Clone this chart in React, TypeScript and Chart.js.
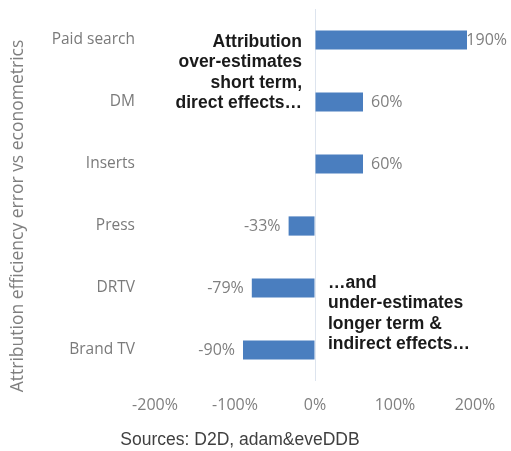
import React, { useEffect, useRef } from "react";
import { Chart, registerables } from "chart.js";

Chart.register(...registerables);

const categories = ["Paid search", "DM", "Inserts", "Press", "DRTV", "Brand TV"];
const values = [190, 60, 60, -33, -79, -90];
const xMin = -200;
const xMax = 200;
const xStep = 100;
const noteTop = ["Attribution", "over-estimates", "short term,", "direct effects…"];
const noteBottom = ["…and", "under-estimates", "longer term &", "indirect effects…"];
const yTitle = "Attribution efficiency error vs econometrics";
const sourceText = "Sources: D2D, adam&eveDDB";

const GREY = "#7f7f7f";
const GREY_FONT = "'Open Sans', sans-serif";
const BAR_COLOR = "#4a7ebf";

const overlayPlugin = {
  id: "overlay",
  afterDatasetsDraw(chart: any) {
    const ctx = chart.ctx;
    const xs = chart.scales.x;
    const ys = chart.scales.y;
    const meta = chart.getDatasetMeta(0);
    ctx.save();
    // data labels
    ctx.font = `16px ${GREY_FONT}`;
    ctx.fillStyle = GREY;
    ctx.textBaseline = "middle";
    meta.data.forEach((bar: any, i: number) => {
      const v = values[i];
      const label = `${v}%`;
      if (v >= 0) {
        const w = ctx.measureText(label).width;
        let x = bar.x + 8;
        if (x + w > chart.width - 4) x = chart.width - 4 - w;
        ctx.textAlign = "left";
        ctx.fillText(label, x, bar.y);
      } else {
        ctx.textAlign = "right";
        ctx.fillText(label, bar.x - 8, bar.y);
      }
    });

    // annotations
    const zero = xs.getPixelForValue(0);
    ctx.font = "bold 17.5px 'Liberation Sans', Arial, sans-serif";
    ctx.fillStyle = "#1a1a1a";
    ctx.textAlign = "right";
    const y0 = ys.getPixelForValue(0) + 2;
    noteTop.forEach((t, i) => ctx.fillText(t, zero - 13, y0 + i * 20.5));
    ctx.textAlign = "left";
    const y4 = ys.getPixelForValue(4) - 5;
    noteBottom.forEach((t, i) => ctx.fillText(t, zero + 13, y4 + i * 20.5));

    // y title
    ctx.save();
    ctx.translate(18, 216);
    ctx.rotate(-Math.PI / 2);
    ctx.font = `17.5px ${GREY_FONT}`;
    ctx.fillStyle = GREY;
    ctx.textAlign = "center";
    ctx.fillText(yTitle, 0, 0);
    ctx.restore();

    // source
    ctx.font = "17.5px 'Liberation Sans', Arial, sans-serif";
    ctx.fillStyle = "#404040";
    ctx.textAlign = "center";
    ctx.fillText(sourceText, 240, 440);
    ctx.restore();
  },
};

export default function App() {
  const canvasRef = useRef<HTMLCanvasElement | null>(null);

  useEffect(() => {
    if (!canvasRef.current) return;
    const chart = new Chart(canvasRef.current, {
      type: "bar",
      data: {
        labels: categories,
        datasets: [
          {
            data: values,
            backgroundColor: BAR_COLOR,
            borderWidth: 0,
            categoryPercentage: 1,
            barPercentage: 0.31,
          },
        ],
      },
      options: {
        indexAxis: "y",
        animation: false,
        responsive: true,
        maintainAspectRatio: false,
        layout: { padding: { top: 9, right: 36, left: 0, bottom: 0 } },
        plugins: {
          legend: { display: false },
          tooltip: { enabled: false },
        },
        scales: {
          x: {
            min: xMin,
            max: xMax,
            ticks: {
              stepSize: xStep,
              callback: (v: any) => `${v}%`,
              font: { family: GREY_FONT, size: 16 },
              color: GREY,
              padding: 15,
              maxRotation: 0,
            },
            grid: {
              drawTicks: false,
              color: (c: any) => (c.tick && c.tick.value === 0 ? "#dde4ee" : "rgba(0,0,0,0)"),
              lineWidth: 1,
            },
            border: { display: false },
            afterFit: (s: any) => {
              s.height = 70;
              s.paddingLeft = 0;
              s.paddingRight = 0;
            },
          },
          y: {
            ticks: {
              font: { family: GREY_FONT, size: 15.5 },
              color: "#7a7a7a",
              padding: 20,
            },
            grid: { display: false, drawTicks: false },
            border: { display: false },
            afterFit: (s: any) => {
              s.width = 155;
              s.paddingTop = 0;
              s.paddingBottom = 0;
            },
          },
        },
      },
      plugins: [overlayPlugin],
    });
    return () => chart.destroy();
  }, []);

  return (
    <div style={{ position: "fixed", left: 0, top: 0, width: 511, height: 451, background: "#fff" }}>
      <canvas ref={canvasRef} style={{ width: "100%", height: "100%" }} />
    </div>
  );
}
